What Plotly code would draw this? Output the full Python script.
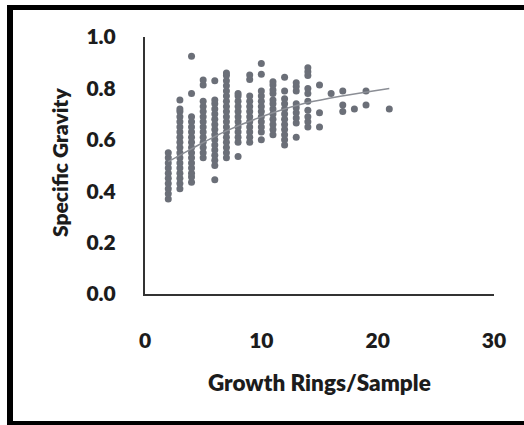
import plotly.graph_objects as go

# ---- data ----
rings_02 = [0.37, 0.39, 0.41, 0.43, 0.45, 0.47, 0.49, 0.51, 0.53, 0.55]
rings_03 = [0.41, 0.43, 0.45, 0.47, 0.49, 0.51, 0.53, 0.55, 0.57, 0.59, 0.61, 0.63, 0.65, 0.67, 0.69, 0.71, 0.72, 0.755]
rings_04 = [0.435, 0.455, 0.47, 0.49, 0.51, 0.53, 0.55, 0.57, 0.59, 0.61, 0.63, 0.65, 0.67, 0.69, 0.78, 0.925]
rings_05 = [0.53, 0.55, 0.57, 0.59, 0.61, 0.63, 0.65, 0.67, 0.69, 0.71, 0.73, 0.75, 0.813, 0.833]
rings_06 = [0.445, 0.50, 0.52, 0.54, 0.56, 0.58, 0.60, 0.62, 0.64, 0.66, 0.68, 0.70, 0.72, 0.74, 0.755, 0.83]
rings_07 = [0.53, 0.55, 0.57, 0.59, 0.61, 0.63, 0.65, 0.67, 0.69, 0.71, 0.73, 0.75, 0.77, 0.79, 0.81, 0.83, 0.85, 0.86]
rings_08 = [0.535, 0.59, 0.61, 0.63, 0.65, 0.67, 0.69, 0.71, 0.73, 0.75, 0.77, 0.78]
rings_09 = [0.59, 0.61, 0.63, 0.65, 0.67, 0.69, 0.71, 0.73, 0.75, 0.77, 0.835, 0.852]
rings_10 = [0.60, 0.63, 0.65, 0.67, 0.69, 0.71, 0.73, 0.75, 0.77, 0.79, 0.855, 0.897]
rings_11 = [0.62, 0.64, 0.66, 0.68, 0.70, 0.72, 0.74, 0.755, 0.78, 0.794, 0.813, 0.826]
rings_12 = [0.58, 0.60, 0.62, 0.64, 0.66, 0.68, 0.70, 0.72, 0.74, 0.76, 0.79, 0.843]
rings_13 = [0.61, 0.665, 0.685, 0.705, 0.725, 0.74, 0.79, 0.807, 0.822]
rings_14 = [0.65, 0.67, 0.69, 0.715, 0.75, 0.78, 0.80, 0.85, 0.865, 0.88]
rings_15 = [0.65, 0.705, 0.813]
rings_16 = [0.78]
rings_17 = [0.71, 0.735, 0.79]
rings_18 = [0.72]
rings_19 = [0.735, 0.79]
rings_21 = [0.72]

ring_counts = [2, 3, 4, 5, 6, 7, 8, 9, 10, 11, 12, 13, 14, 15, 16, 17, 18, 19, 21]
columns = [rings_02, rings_03, rings_04, rings_05, rings_06, rings_07, rings_08, rings_09,
           rings_10, rings_11, rings_12, rings_13, rings_14, rings_15, rings_16, rings_17,
           rings_18, rings_19, rings_21]

trend_x = [2, 4, 7, 11, 14, 21]
trend_y = [0.515, 0.565, 0.635, 0.705, 0.745, 0.80]

x_ticks = [0, 10, 20, 30]
y_ticks = [0.0, 0.2, 0.4, 0.6, 0.8, 1.0]
y_tick_text = ["0.0", "0.2", "0.4", "0.6", "0.8", "1.0"]

xs, ys = [], []
for r, col in zip(ring_counts, columns):
    xs += [r] * len(col)
    ys += col

W, H = 524, 425
ML, MR, MT, MB = 145, 30, 37, 131
PW, PH = W - ML - MR, H - MT - MB

def px_to_paper_x(px):
    return (px - ML) / PW

def py_to_paper_y(py):
    return (H - MB - py) / PH

FONT = "Lato"
INK = "#1c1c1c"

fig = go.Figure()
fig.add_trace(go.Scatter(x=xs, y=ys, mode="markers",
                         marker=dict(color="#6b6f78", size=7, line=dict(width=0)),
                         showlegend=False, hoverinfo="x+y"))
fig.add_trace(go.Scatter(x=trend_x, y=trend_y, mode="lines",
                         line=dict(color="#8b8e95", width=1.5, shape="spline"),
                         showlegend=False, hoverinfo="skip"))

fig.update_layout(
    width=W, height=H,
    margin=dict(l=ML, r=MR, t=MT, b=MB),
    paper_bgcolor="white", plot_bgcolor="white",
    font=dict(family=FONT, color=INK),
    xaxis=dict(range=[0, 30], tickvals=x_ticks, showgrid=False, zeroline=False,
               showline=True, linecolor="#333333", linewidth=2,
               tickfont=dict(size=21, family=FONT, color=INK, weight=800),
               ticks="", ticklabelstandoff=27, automargin=False),
    yaxis=dict(range=[0, 1.0], tickvals=y_ticks, ticktext=y_tick_text, showgrid=False, zeroline=False,
               showline=True, linecolor="#333333", linewidth=2,
               tickfont=dict(size=21, family=FONT, color=INK, weight=800),
               ticks="", ticklabelstandoff=23, automargin=False),
    annotations=[
        dict(text="Growth Rings/Sample", xref="paper", yref="paper",
             x=px_to_paper_x(319), y=py_to_paper_y(382), xanchor="center", yanchor="middle",
             showarrow=False, font=dict(size=22.5, family=FONT, color=INK, weight=800)),
        dict(text="Specific Gravity", xref="paper", yref="paper", textangle=-90,
             x=px_to_paper_x(59), y=py_to_paper_y(163), xanchor="center", yanchor="middle",
             showarrow=False, font=dict(size=21, family=FONT, color=INK, weight=800)),
    ],
    shapes=[
        dict(type="line", xref="paper", yref="paper", x0=px_to_paper_x(10), x1=px_to_paper_x(10),
             y0=py_to_paper_y(5), y1=py_to_paper_y(425), line=dict(color="black", width=6)),
        dict(type="line", xref="paper", yref="paper", x0=px_to_paper_x(7), x1=px_to_paper_x(526),
             y0=py_to_paper_y(7.5), y1=py_to_paper_y(7.5), line=dict(color="black", width=5)),
        dict(type="line", xref="paper", yref="paper", x0=px_to_paper_x(7), x1=px_to_paper_x(526),
             y0=py_to_paper_y(423.5), y1=py_to_paper_y(423.5), line=dict(color="black", width=5)),
    ],
)

fig.write_html("out.html", config={"displayModeBar": False},
               post_script="document.body.style.margin='0px';")
